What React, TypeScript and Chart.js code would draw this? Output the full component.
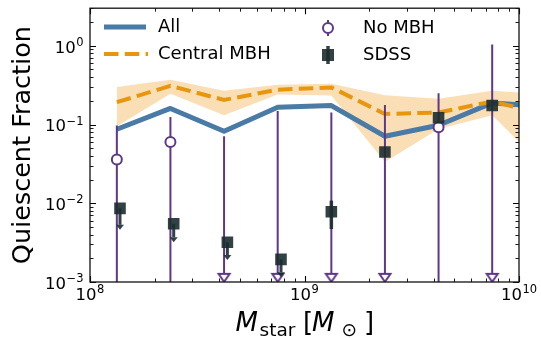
import React, { useEffect, useRef } from "react";
import { Chart, registerables } from "chart.js";

Chart.register(...registerables);

// ---------------- data ----------------
const binMass = [1.334e8, 2.371e8, 4.217e8, 7.499e8, 1.334e9, 2.371e9, 4.217e9, 7.499e9, 1.334e10];
const allFrac = [0.087, 0.16, 0.082, 0.166, 0.174, 0.071, 0.098, 0.188, 0.17];
const centralFrac = [0.192, 0.31, 0.205, 0.277, 0.296, 0.136, 0.142, 0.196, 0.135];
const centralHi = [0.3, 0.37, 0.269, 0.32, 0.33, 0.235, 0.213, 0.268, 0.243];
const centralLo = [0.095, 0.246, 0.131, 0.24, 0.233, 0.0335, 0.0874, 0.131, 0.028];

const noMbhMass = [1.334e8, 2.371e8, 4.217e8, 7.499e8, 1.334e9, 2.371e9, 4.217e9, 7.499e9];
const noMbhFrac = [0.036, 0.06, null, null, null, null, 0.092, null];
const noMbhLimit = [null, null, 0.00113, 0.00113, 0.00113, 0.00113, null, 0.00113];
const noMbhErrHi = [0.097, 0.125, 0.071, 0.149, 0.142, 0.177, 0.25, 1.04];
const noMbhErrLo = [0.0001, 0.0001, 0.00113, 0.00113, 0.00113, 0.00113, 0.0001, 0.00113];

const sdssMass = [1.38e8, 2.456e8, 4.37e8, 7.77e8, 1.334e9, 2.371e9, 4.217e9, 7.499e9];
const sdssFrac = [0.0086, 0.0055, 0.0032, 0.00194, 0.0078, 0.0447, 0.122, 0.174];
const sdssArrowTo = [0.0046, 0.0032, 0.0019, 0.00115, null, null, null, null];
const sdssErrLo = [null, null, null, null, 0.0047, null, null, null];
const sdssErrHi = [null, null, null, null, 0.0108, null, null, null];

const xMajorTicks = [1e8, 1e9, 1e10];
const xTickExps = ["8", "9", "10"];
const yMajorTicks = [1e-3, 1e-2, 1e-1, 1];
const yTickExps = ["−3", "−2", "−1", "0"];
const tickBase = "10";
const legendLabels = ["All", "Central MBH", "No MBH", "SDSS"];
const yTitle = "Quiescent Fraction";

// ---------------- styles ----------------
const FONT = "'DejaVu Sans', sans-serif";
const BLUE = "#4a7ba6";
const ORANGE = "#e8960e";
const BAND = "rgba(243,178,80,0.42)";
const PURPLE = "#5e3788";
const SDSS = "rgba(28,44,48,0.9)";

function majorIndex(v: number, majors: number[]) {
  for (let j = 0; j < majors.length; j++) {
    if (Math.abs(v / majors[j] - 1) < 1e-6) return j;
  }
  return -1;
}

function logTicks(minExp: number, maxExp: number, max: number) {
  const out: { value: number; major: boolean }[] = [];
  for (let e = minExp; e <= maxExp; e++) {
    for (let k = 1; k <= 9; k++) {
      const v = k * Math.pow(10, e);
      if (v <= max * 1.0000001) out.push({ value: v, major: k === 1 });
    }
  }
  return out;
}

function makeTriangle(): HTMLCanvasElement {
  const c = document.createElement("canvas");
  c.width = 16;
  c.height = 12;
  const g = c.getContext("2d")!;
  g.beginPath();
  g.moveTo(2.5, 2);
  g.lineTo(13.5, 2);
  g.lineTo(8, 10);
  g.closePath();
  g.fillStyle = "#fff";
  g.fill();
  g.lineWidth = 2;
  g.strokeStyle = PURPLE;
  g.stroke();
  return c;
}

const BASE_FONT = `16.5px ${FONT}`;
const EXP_FONT = `11.5px ${FONT}`;

const overlayPlugin = {
  id: "overlay",
  afterDatasetDraw(chart: any, args: any) {
    const ds = chart.data.datasets[args.index];
    const ctx = chart.ctx as CanvasRenderingContext2D;
    const xs = chart.scales.x;
    const ys = chart.scales.y;
    const a = chart.chartArea;
    if (ds.label === "Central MBH") {
      ctx.save();
      ctx.beginPath();
      ctx.rect(a.left, a.top, a.right - a.left, a.bottom - a.top);
      ctx.clip();
      ctx.strokeStyle = PURPLE;
      ctx.lineWidth = 2;
      for (let i = 0; i < noMbhMass.length; i++) {
        const px = xs.getPixelForValue(noMbhMass[i]);
        ctx.beginPath();
        ctx.moveTo(px, ys.getPixelForValue(noMbhErrHi[i]));
        ctx.lineTo(px, ys.getPixelForValue(noMbhErrLo[i]));
        ctx.stroke();
      }
      ctx.restore();
    }
    if (ds.label === "SDSS") {
      ctx.save();
      ctx.strokeStyle = SDSS;
      ctx.fillStyle = SDSS;
      for (let i = 0; i < sdssMass.length; i++) {
        const px = xs.getPixelForValue(sdssMass[i]);
        const py = ys.getPixelForValue(sdssFrac[i]);
        const to = sdssArrowTo[i];
        if (to != null) {
          const ty = ys.getPixelForValue(to);
          ctx.lineWidth = 3;
          ctx.beginPath();
          ctx.moveTo(px, py);
          ctx.lineTo(px, ty - 5);
          ctx.stroke();
          ctx.beginPath();
          ctx.moveTo(px - 4, ty - 5);
          ctx.lineTo(px + 4, ty - 5);
          ctx.lineTo(px, ty);
          ctx.closePath();
          ctx.fill();
        }
        const lo = sdssErrLo[i];
        const hi = sdssErrHi[i];
        if (lo != null && hi != null) {
          ctx.lineWidth = 3.5;
          ctx.beginPath();
          ctx.moveTo(px, ys.getPixelForValue(hi));
          ctx.lineTo(px, ys.getPixelForValue(lo));
          ctx.stroke();
        }
      }
      ctx.restore();
    }
  },
  afterDraw(chart: any) {
    const ctx = chart.ctx as CanvasRenderingContext2D;
    const a = chart.chartArea;
    const xs = chart.scales.x;
    const ys = chart.scales.y;
    ctx.save();
    // ticks (inward, all four sides)
    ctx.strokeStyle = "#000";
    for (const t of xs.ticks) {
      const px = Math.round(xs.getPixelForValue(t.value)) + 0.5;
      const major = majorIndex(t.value, xMajorTicks) >= 0;
      const len = major ? 6 : 3.5;
      ctx.lineWidth = major ? 1.1 : 0.9;
      ctx.beginPath();
      ctx.moveTo(px, a.bottom);
      ctx.lineTo(px, a.bottom - len);
      ctx.moveTo(px, a.top);
      ctx.lineTo(px, a.top + len);
      ctx.stroke();
    }
    for (const t of ys.ticks) {
      const py = Math.round(ys.getPixelForValue(t.value)) + 0.5;
      const major = majorIndex(t.value, yMajorTicks) >= 0;
      const len = major ? 6 : 3.5;
      ctx.lineWidth = major ? 1.1 : 0.9;
      ctx.beginPath();
      ctx.moveTo(a.left, py);
      ctx.lineTo(a.left + len, py);
      ctx.moveTo(a.right, py);
      ctx.lineTo(a.right - len, py);
      ctx.stroke();
    }
    // frame
    ctx.lineWidth = 1.3;
    ctx.strokeStyle = "#111";
    ctx.strokeRect(a.left, a.top, a.right - a.left, a.bottom - a.top);

    // tick labels 10^n
    ctx.fillStyle = "#000";
    ctx.textBaseline = "alphabetic";
    ctx.textAlign = "left";
    xMajorTicks.forEach((v, j) => {
      const px = xs.getPixelForValue(v);
      ctx.font = BASE_FONT;
      const wb = ctx.measureText(tickBase).width;
      ctx.font = EXP_FONT;
      const we = ctx.measureText(xTickExps[j]).width;
      const x0 = px - (wb + we + 0.5) / 2;
      ctx.font = BASE_FONT;
      ctx.fillText(tickBase, x0, 300);
      ctx.font = EXP_FONT;
      ctx.fillText(xTickExps[j], x0 + wb + 0.5, 293);
    });
    yMajorTicks.forEach((v, j) => {
      const py = ys.getPixelForValue(v);
      ctx.font = BASE_FONT;
      const wb = ctx.measureText(tickBase).width;
      ctx.font = EXP_FONT;
      const we = ctx.measureText(yTickExps[j]).width;
      const right = a.left - 6.5;
      const x0 = right - we - wb - 0.5;
      ctx.font = BASE_FONT;
      ctx.fillText(tickBase, x0, py + 6.8);
      ctx.font = EXP_FONT;
      ctx.fillText(yTickExps[j], x0 + wb + 0.5, py + 0.2);
    });

    // legend
    ctx.font = `18px ${FONT}`;
    ctx.textBaseline = "middle";
    ctx.textAlign = "left";
    ctx.fillStyle = "#000";
    ctx.lineCap = "butt";
    ctx.strokeStyle = BLUE;
    ctx.lineWidth = 5;
    ctx.beginPath();
    ctx.moveTo(104, 27);
    ctx.lineTo(146, 27);
    ctx.stroke();
    ctx.fillText(legendLabels[0], 158, 27.5);

    ctx.strokeStyle = ORANGE;
    ctx.lineWidth = 4;
    ctx.setLineDash([14.5, 6.3]);
    ctx.beginPath();
    ctx.moveTo(104, 54);
    ctx.lineTo(148, 54);
    ctx.stroke();
    ctx.setLineDash([]);
    ctx.fillText(legendLabels[1], 158, 54.5);

    ctx.strokeStyle = PURPLE;
    ctx.lineWidth = 2;
    ctx.beginPath();
    ctx.moveTo(328, 20);
    ctx.lineTo(328, 36);
    ctx.stroke();
    ctx.beginPath();
    ctx.arc(328, 28, 5, 0, Math.PI * 2);
    ctx.fillStyle = "#fff";
    ctx.fill();
    ctx.stroke();
    ctx.fillStyle = "#000";
    ctx.fillText(legendLabels[2], 363, 28.5);

    ctx.fillStyle = SDSS;
    ctx.fillRect(322, 49, 12, 12);
    ctx.strokeStyle = SDSS;
    ctx.lineWidth = 3.5;
    ctx.beginPath();
    ctx.moveTo(328, 46);
    ctx.lineTo(328, 64);
    ctx.stroke();
    ctx.fillStyle = "#000";
    ctx.fillText(legendLabels[3], 363, 55.5);

    // x-axis label: M_star [M_⊙]
    const cx = (a.left + a.right) / 2;
    const base = 331;
    const subBase = 335.5;
    ctx.textBaseline = "alphabetic";
    ctx.font = `oblique 26px ${FONT}`;
    ctx.fillText("M", cx - 69, base);
    ctx.font = `18.5px ${FONT}`;
    ctx.fillText("star", cx - 45, subBase);
    ctx.font = `26px ${FONT}`;
    ctx.fillText("[", cx - 1.5, base);
    ctx.font = `oblique 26px ${FONT}`;
    ctx.fillText("M", cx + 7.5, base);
    ctx.font = `18.5px ${FONT}`;
    ctx.fillText("⊙", cx + 37, subBase);
    ctx.font = `26px ${FONT}`;
    ctx.fillText("]", cx + 59.5, base);
    ctx.restore();
  },
};

export default function App() {
  const ref = useRef<HTMLCanvasElement | null>(null);
  useEffect(() => {
    const canvas = ref.current;
    if (!canvas) return;
    const tri = makeTriangle();
    const chart = new Chart(canvas, {
      type: "line",
      data: {
        datasets: [
          {
            label: "band-hi",
            data: binMass.map((m, i) => ({ x: m, y: centralHi[i] })),
            borderColor: "rgba(0,0,0,0)",
            borderWidth: 0,
            pointRadius: 0,
            fill: "+1",
            backgroundColor: BAND,
            order: 10,
          },
          {
            label: "band-lo",
            data: binMass.map((m, i) => ({ x: m, y: centralLo[i] })),
            borderColor: "rgba(0,0,0,0)",
            borderWidth: 0,
            pointRadius: 0,
            fill: false,
            order: 10,
          },
          {
            label: "All",
            data: binMass.map((m, i) => ({ x: m, y: allFrac[i] })),
            borderColor: BLUE,
            borderWidth: 5,
            pointRadius: 0,
            fill: false,
            borderJoinStyle: "round",
            order: 8,
          },
          {
            label: "Central MBH",
            data: binMass.map((m, i) => ({ x: m, y: centralFrac[i] })),
            borderColor: ORANGE,
            borderWidth: 4,
            borderDash: [14.5, 6.3],
            pointRadius: 0,
            fill: false,
            order: 7,
          },
          {
            label: "No MBH",
            data: noMbhMass.map((m, i) => ({ x: m, y: noMbhFrac[i] })),
            showLine: false,
            pointStyle: "circle",
            pointRadius: 5,
            pointBorderWidth: 2,
            pointBorderColor: PURPLE,
            pointBackgroundColor: "#fff",
            order: 5,
          },
          {
            label: "No MBH limits",
            data: noMbhMass.map((m, i) => ({ x: m, y: noMbhLimit[i] })),
            showLine: false,
            pointStyle: tri,
            pointRadius: 6,
            order: 4,
          },
          {
            label: "SDSS",
            data: sdssMass.map((m, i) => ({ x: m, y: sdssFrac[i] })),
            showLine: false,
            pointStyle: "rect",
            pointRadius: 8.2,
            pointBorderWidth: 0,
            pointBorderColor: "rgba(0,0,0,0)",
            pointBackgroundColor: SDSS,
            order: 2,
          },
        ] as any,
      },
      options: {
        animation: false,
        responsive: false,
        devicePixelRatio: 1,
        layout: { padding: { top: 4, right: 22, bottom: 0, left: 0 } },
        plugins: { legend: { display: false }, tooltip: { enabled: false } },
        scales: {
          x: {
            type: "logarithmic",
            min: 1e8,
            max: 1e10,
            position: "bottom",
            grid: { display: false, drawTicks: false },
            border: { display: false },
            afterBuildTicks: (s: any) => {
              s.ticks = logTicks(8, 10, 1e10);
            },
            afterFit: (s: any) => {
              s.height = 56;
            },
            ticks: { display: false, autoSkip: false },
          },
          y: {
            type: "logarithmic",
            min: 1e-3,
            max: 3,
            position: "left",
            grid: { display: false, drawTicks: false },
            border: { display: false },
            afterBuildTicks: (s: any) => {
              s.ticks = logTicks(-3, 0, 3);
            },
            afterFit: (s: any) => {
              s.width = 90;
            },
            ticks: { display: false, autoSkip: false },
            title: {
              display: true,
              text: yTitle,
              color: "#000",
              font: { family: FONT, size: 25.5 },
              padding: { top: 8.5, bottom: 0 },
            },
          },
        },
      } as any,
      plugins: [overlayPlugin as any],
    });
    return () => chart.destroy();
  }, []);
  return (
    <div style={{ position: "fixed", left: 0, top: 0, width: 541, height: 338, background: "#fff" }}>
      <canvas ref={ref} width={541} height={338} style={{ display: "block", width: 541, height: 338 }} />
    </div>
  );
}
